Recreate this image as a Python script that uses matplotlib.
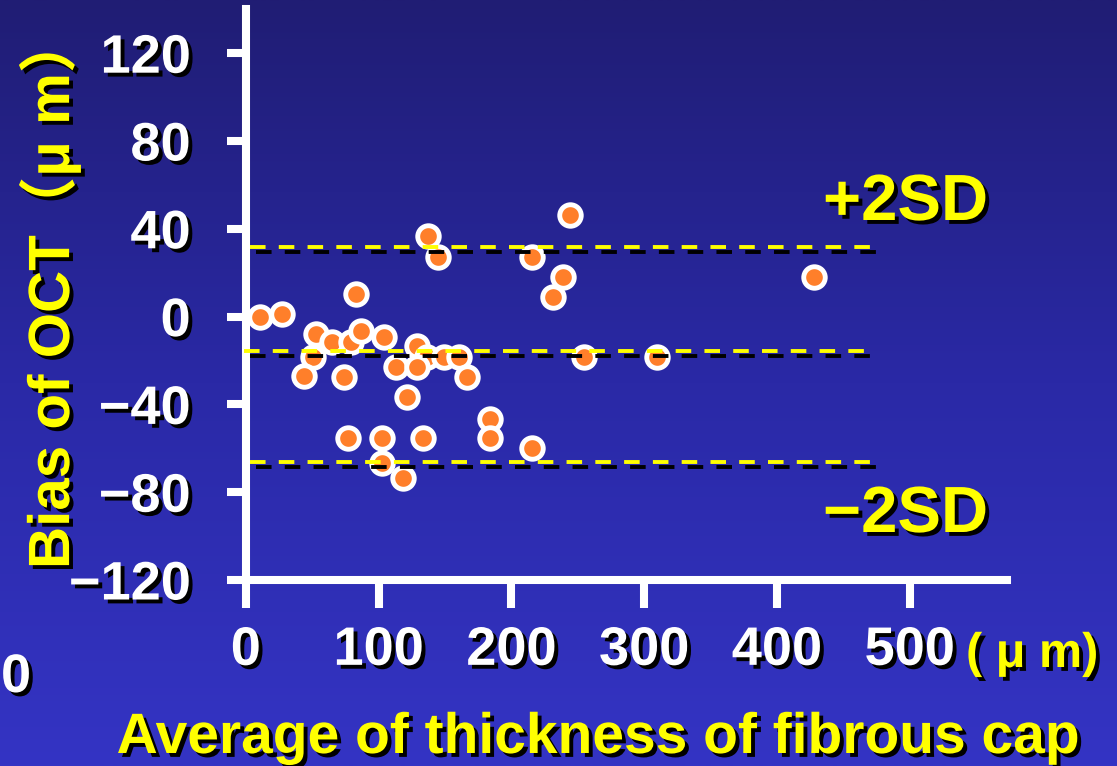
import matplotlib
matplotlib.use("Agg")
import matplotlib.pyplot as plt
import matplotlib.patheffects as pe
import numpy as np
from matplotlib.colors import LinearSegmentedColormap

# ---- data ----
avg_thickness = [243.8, 137.1, 144.6, 215.4, 239.0, 231.0, 83.0, 10.9, 27.1, 53.1,
                 64.7, 79.0, 86.8, 103.9, 50.4, 44.1, 74.0, 128.8, 136.5, 149.6,
                 160.4, 113.0, 129.0, 166.7, 121.3, 254.6, 309.6, 184.2, 184.2, 215.4,
                 77.0, 102.4, 133.3, 102.4, 118.2, 427.6]
bias = [46.2, 36.7, 27.3, 27.3, 18.2, 9.0, 10.3, 0.0, 1.2, -7.9,
        -11.7, -11.7, -6.4, -9.1, -18.2, -27.0, -27.5, -13.2, -18.4, -18.2,
        -18.2, -23.1, -23.1, -27.6, -36.6, -18.2, -18.2, -46.5, -55.1, -59.7,
        -55.1, -55.1, -55.1, -66.8, -73.4, 18.2]

plus_2sd = 31.8
mean_bias = -15.7
minus_2sd = -66.1
ref_levels = [plus_2sd, mean_bias, minus_2sd]
ref_x_start = [3, -1, 3]
ref_x_end = [470, 468, 470]

x_ticks = [0, 100, 200, 300, 400, 500]
x_tick_labels = ["0", "100", "200", "300", "400", "500"]
y_ticks = [-120, -80, -40, 0, 40, 80, 120]
y_tick_labels = ["\u2212120", "\u221280", "\u221240", "0", "40", "80", "120"]

x_label = "Average of thickness of fibrous cap"
x_unit = "( \u03bc m)"
y_label = "Bias of OCT\uff08\u03bc m\uff09"

# ---- figure ----
W, H = 1117, 766
fig = plt.figure(figsize=(W / 100, H / 100), dpi=100)

# gradient background
bg = fig.add_axes([0, 0, 1, 1], zorder=-10)
cmap = LinearSegmentedColormap.from_list("bg", ["#201d74", "#2a29a6", "#3434c4"])
grad = np.linspace(0, 1, 256).reshape(-1, 1)
bg.imshow(grad, aspect="auto", cmap=cmap, extent=[0, 1, 0, 1], origin="upper")
bg.set_axis_off()

ax = fig.add_axes([245.8 / W, (H - 580) / H, (1006.7 - 245.8) / W, (580 - 9.3) / H])
ax.set_facecolor("none")
ax.set_xlim(0, 573)
ax.set_ylim(-120, 140)

shadow_txt = [pe.withSimplePatchShadow(offset=(2.8, -2.8), shadow_rgbFace="black", alpha=1.0)]
font_main = ["Liberation Sans", "DejaVu Sans"]
font_cjk = ["Liberation Sans", "Noto Sans CJK JP", "DejaVu Sans"]

# points
ax.scatter(avg_thickness, bias, s=240, c="#ff7f2a", edgecolors="white",
           linewidths=3.5, zorder=3, clip_on=False)

# reference dashed lines with shadow
for lvl, x0, x1 in zip(ref_levels, ref_x_start, ref_x_end):
    ax.plot([x0, x1], [lvl, lvl], color="#ffff00", lw=2.8, dashes=(4.0, 3.4),
            zorder=4, clip_on=False, solid_capstyle="butt", dash_capstyle="butt",
            path_effects=[pe.SimpleLineShadow(offset=(4.3, -3.6), shadow_color="black",
                                              alpha=1.0, rho=1.0), pe.Normal()])

# spines
for side in ["top", "right"]:
    ax.spines[side].set_visible(False)
for side in ["left", "bottom"]:
    ax.spines[side].set_color("white")
    ax.spines[side].set_linewidth(5.8)

ax.set_xticks(x_ticks, x_tick_labels)
ax.set_yticks(y_ticks, y_tick_labels)
ax.tick_params(axis="x", length=20, width=5.8, color="white", pad=13,
               labelsize=39, labelcolor="white")
ax.tick_params(axis="y", length=13.7, width=5.8, color="white", pad=26,
               labelsize=39, labelcolor="white")
for lbl in ax.get_xticklabels() + ax.get_yticklabels():
    lbl.set_fontfamily(font_main)
    lbl.set_fontweight("bold")
    lbl.set_path_effects(shadow_txt)

# +2SD / -2SD labels
fig.text(823 / W, (H - 220) / H, "+2SD", color="#ffff00", fontsize=47,
         fontweight="bold", family=font_main, ha="left", va="baseline",
         path_effects=shadow_txt)
fig.text(823 / W, (H - 532) / H, "\u22122SD", color="#ffff00", fontsize=47,
         fontweight="bold", family=font_main, ha="left", va="baseline",
         path_effects=shadow_txt)

# unit after 500
fig.text(966 / W, (H - 667) / H, x_unit, color="#ffff00", fontsize=35,
         fontweight="bold", family=font_main, ha="left", va="baseline",
         path_effects=shadow_txt)

# axis labels
fig.text(599 / W, (H - 753) / H, x_label, color="#ffff00", fontsize=41,
         fontweight="bold", family=font_main, ha="center", va="baseline",
         path_effects=shadow_txt)
fig.text(50 / W, (H - 569) / H, y_label, color="#ffff00", fontsize=42,
         fontweight="bold", family=font_cjk, rotation=90, ha="center", va="bottom",
         path_effects=shadow_txt)

# partial label at left edge
fig.text(1 / W, (H - 692) / H, "0", color="white", fontsize=39,
         fontweight="bold", family=font_main, ha="left", va="baseline",
         path_effects=shadow_txt)

fig.savefig("out.png", dpi=100)
